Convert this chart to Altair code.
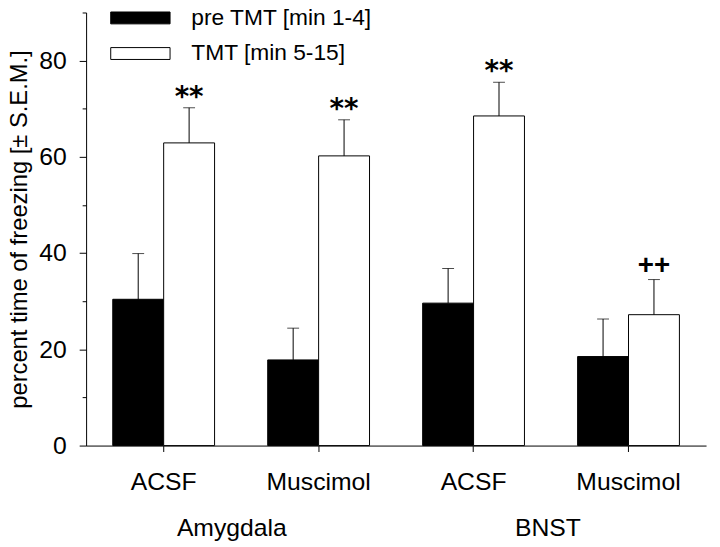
import altair as alt
import pandas as pd

# ---- data ----
regions = ["Amygdala", "Amygdala", "BNST", "BNST"]
treatments = ["ACSF", "Muscimol", "ACSF", "Muscimol"]
series_names = ["pre TMT [min 1-4]", "TMT [min 5-15]"]
pre_mean = [30.4, 17.8, 29.6, 18.5]
pre_sem = [9.5, 6.6, 7.2, 7.8]
tmt_mean = [62.9, 60.2, 68.5, 27.2]
tmt_sem = [7.3, 7.5, 7.0, 7.3]
tmt_sig = ["**", "**", "**", "++"]
group_labels = ["Amygdala", "BNST"]
group_pos = [0.94, 2.98]  # position along the 4-category axis (in category units)

rows = []
for i in range(len(regions)):
    key = regions[i] + "|" + treatments[i]
    rows.append(dict(cat=key, series=series_names[0], mean=pre_mean[i], sem=pre_sem[i], sig=""))
    rows.append(dict(cat=key, series=series_names[1], mean=tmt_mean[i], sem=tmt_sem[i], sig=tmt_sig[i]))
df = pd.DataFrame(rows)
cats = [regions[i] + "|" + treatments[i] for i in range(len(regions))]
gdf = pd.DataFrame(dict(label=group_labels, pos=group_pos))

W, H = 627, 438
FONT = "Liberation Sans"

x_enc = alt.X(
    "cat:N",
    sort=cats,
    scale=alt.Scale(paddingInner=0.343, paddingOuter=0.172),
    axis=alt.Axis(
        title=None,
        labelExpr="split(datum.label, '|')[1]",
        labelAngle=0,
        tickSize=6,
        labelPadding=18,
        labelFontSize=25,
    ),
)
xoff = alt.XOffset("series:N", sort=series_names, scale=alt.Scale(paddingInner=0, paddingOuter=0))

y_enc = alt.Y(
    "mean:Q",
    scale=alt.Scale(domain=[0, 90], nice=False),
    axis=alt.Axis(
        title="percent time of freezing [± S.E.M.]",
        values=list(range(0, 91, 10)),
        labelExpr="(datum.value % 20 == 0 && datum.value < 90) ? datum.label : ''",
        tickSize={"condition": {"test": "datum.value % 20 == 0", "value": 7}, "value": 4},
        labelPadding=13,
        labelFontSize=25,
        titleFontSize=24,
        titleX=-55,
        titleAngle=270,
        titleAlign="center",
        titleBaseline="bottom",
    ),
)

# wide 60x12 swatch: path scaled by sqrt(size)/2 = 6
bars = alt.Chart(df).mark_bar(stroke="black", strokeWidth=1).encode(
    x=x_enc,
    xOffset=xoff,
    y=y_enc,
    fill=alt.Fill(
        "series:N",
        sort=series_names,
        scale=alt.Scale(domain=series_names, range=["black", "white"]),
        legend=alt.Legend(
            title=None,
            orient="none",
            legendX=43.4,
            legendY=-6,
            symbolType="M-5,-1H5V1H-5Z",
            symbolSize=144,
            symbolStrokeColor="black",
            symbolStrokeWidth=1,
            symbolOpacity=1,
            labelFont=FONT,
            labelFontSize=23,
            labelColor="black",
            labelOffset=40,
            labelLimit=0,
            rowPadding=12,
            padding=0,
        ),
    ),
)

base = alt.Chart(df).transform_calculate(upper="datum.mean + datum.sem")

err = base.mark_rule(color="black", strokeWidth=1).encode(
    x=alt.X("cat:N", sort=cats), xOffset=xoff, y="mean:Q", y2="upper:Q"
)
caps = base.mark_tick(color="black", size=12, thickness=1).encode(
    x=alt.X("cat:N", sort=cats), xOffset=xoff, y="upper:Q"
)
stars = base.transform_filter("datum.sig == '**'").mark_text(
    font="DejaVu Sans", fontWeight="bold", fontSize=28, baseline="alphabetic", dy=-2, color="black"
).encode(x=alt.X("cat:N", sort=cats), xOffset=xoff, y="upper:Q", text="sig:N")
plus = base.transform_filter("datum.sig == '++'").mark_text(
    font=FONT, fontWeight="bold", fontSize=28, baseline="alphabetic", dy=-6, color="black"
).encode(x=alt.X("cat:N", sort=cats), xOffset=xoff, y="upper:Q", text="sig:N")

main = alt.layer(bars, err, caps, stars, plus)

groups = alt.Chart(gdf).mark_text(font=FONT, fontSize=25, baseline="middle", color="black").encode(
    x=alt.X("pos:Q", scale=alt.Scale(domain=[0, 4], nice=False, zero=False), axis=None),
    y=alt.value(H + 83),
    text="label:N",
)

chart = (
    alt.layer(main, groups)
    .resolve_scale(x="independent")
    .properties(
        width=W,
        height=H,
        autosize=alt.AutoSizeParams(type="none"),
        padding={"left": 79, "top": 1.5, "right": 6, "bottom": 96},
    )
    .configure_view(stroke=None)
    .configure_axis(
        grid=False,
        domainColor="black",
        tickColor="black",
        labelColor="black",
        titleColor="black",
        labelFont=FONT,
        titleFont=FONT,
        titleFontWeight="normal",
        domainWidth=1,
        tickWidth=1,
    )
)

chart.save("out.html", embed_options={"renderer": "svg", "actions": False})
